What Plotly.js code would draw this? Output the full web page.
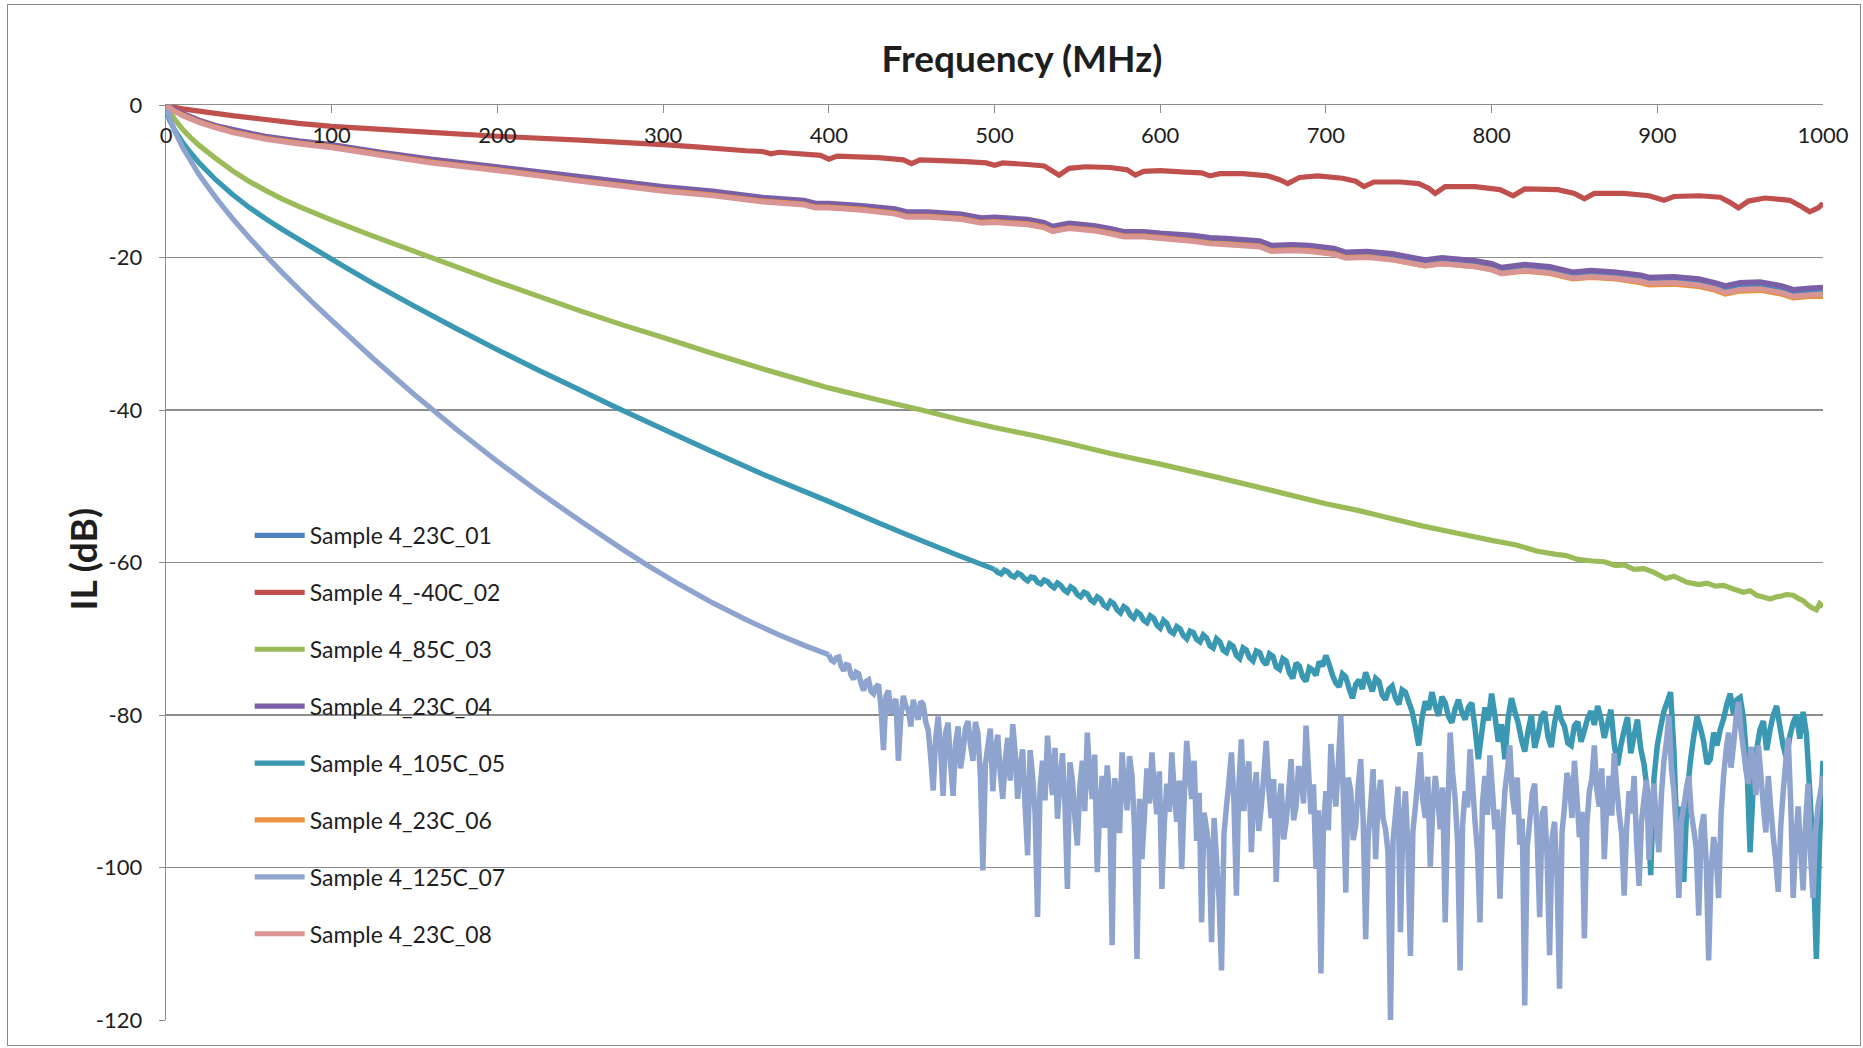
<!DOCTYPE html>
<html><head><meta charset="utf-8">
<script src="https://cdn.plot.ly/plotly-3.0.1.min.js"></script>
<style>
html,body{margin:0;padding:0;background:#fff;}
#frame{position:absolute;left:7px;top:4px;width:1852px;height:1040px;border:1px solid #8a8a8a;}
#chart{width:1852px;height:1040px;}
</style></head><body>
<div id="frame"><div id="chart"></div></div>
<script>
// ---------- DATA ----------
const SERIES_NAMES = ['Sample 4_23C_01','Sample 4_-40C_02','Sample 4_85C_03','Sample 4_23C_04',
                      'Sample 4_105C_05','Sample 4_23C_06','Sample 4_125C_07','Sample 4_23C_08'];
const X_TICKS = [0,100,200,300,400,500,600,700,800,900,1000];
const Y_TICKS = [-120,-100,-80,-60,-40,-20,0];
const X_TITLE = 'Frequency (MHz)';
const Y_TITLE = 'IL (dB)';

// Sample 4_-40C_02
const FREQ_M40 = [0,5,10,20,40,60,80,100,130,160,200,250,300,320,350,360,365,370,395,400,405,430,445,450,455,480,495,500,505,520,530,539,545,555,570,580,585,590,600,615,625,630,636,650,665,672,677,684,695,710,718,723,729,745,756,762,766,772,790,805,813,820,840,850,856,862,880,895,904,910,925,938,944,949,955,965,980,986,992,997,1000];
const IL_M40 = [0,-0.3,-0.5,-0.8,-1.4,-1.9,-2.4,-2.8,-3.2,-3.6,-4.1,-4.6,-5.2,-5.5,-6.0,-6.1,-6.4,-6.2,-6.6,-7.1,-6.7,-6.9,-7.2,-7.7,-7.2,-7.4,-7.6,-7.9,-7.6,-7.8,-8.0,-9.2,-8.3,-8.1,-8.2,-8.5,-9.2,-8.7,-8.6,-8.8,-8.9,-9.3,-9.0,-9.0,-9.3,-9.8,-10.3,-9.5,-9.3,-9.6,-10.0,-10.7,-10.1,-10.1,-10.3,-10.9,-11.6,-10.7,-10.7,-11.1,-11.9,-11.0,-11.1,-11.6,-12.3,-11.6,-11.6,-11.9,-12.5,-12.0,-11.9,-12.1,-12.8,-13.5,-12.6,-12.2,-12.5,-13.2,-14.0,-13.5,-12.9];

// the four 23C samples share one frequency list
const FREQ_23C = [0,5,10,20,30,40,60,80,100,130,160,200,250,300,330,360,385,392,400,420,440,447,460,480,492,500,520,530,535,545,560,570,578,590,600,620,630,640,660,667,680,690,705,712,725,740,755,760,770,790,800,806,820,835,849,860,875,890,895,910,925,935,941,950,962,975,982,992,1000];
const IL_23C_01 = [0,-0.7,-1.2,-2.1,-2.8,-3.4,-4.3,-4.9,-5.4,-6.4,-7.3,-8.3,-9.7,-11.0,-11.6,-12.4,-12.8,-13.2,-13.2,-13.5,-13.9,-14.3,-14.3,-14.6,-15.1,-15.0,-15.3,-15.7,-16.2,-15.8,-16.1,-16.5,-16.9,-16.9,-17.1,-17.4,-17.7,-17.8,-18.1,-18.7,-18.6,-18.7,-19.1,-19.6,-19.5,-19.8,-20.4,-20.6,-20.3,-20.7,-21.1,-21.6,-21.2,-21.5,-22.2,-22.0,-22.2,-22.6,-22.9,-22.8,-23.1,-23.6,-24.0,-23.6,-23.5,-24.0,-24.5,-24.3,-24.2];
const IL_23C_04 = [0,-0.6,-1.1,-2.0,-2.7,-3.2,-4.1,-4.7,-5.2,-6.2,-7.1,-8.1,-9.4,-10.7,-11.3,-12.1,-12.5,-12.9,-12.9,-13.2,-13.6,-14.0,-14.0,-14.3,-14.8,-14.7,-15.0,-15.4,-15.9,-15.5,-15.8,-16.2,-16.6,-16.6,-16.8,-17.1,-17.4,-17.5,-17.8,-18.4,-18.3,-18.4,-18.8,-19.3,-19.2,-19.5,-20.1,-20.3,-20.0,-20.4,-20.8,-21.3,-20.9,-21.2,-21.9,-21.7,-21.9,-22.3,-22.6,-22.5,-22.8,-23.3,-23.7,-23.3,-23.2,-23.7,-24.2,-24.0,-23.9];
const IL_23C_06 = [0,-0.8,-1.3,-2.2,-2.9,-3.5,-4.4,-5.0,-5.5,-6.5,-7.5,-8.5,-9.9,-11.2,-11.8,-12.6,-13.0,-13.4,-13.4,-13.7,-14.2,-14.6,-14.6,-14.9,-15.4,-15.3,-15.6,-16.0,-16.5,-16.1,-16.4,-16.8,-17.2,-17.2,-17.4,-17.8,-18.1,-18.2,-18.5,-19.1,-19.0,-19.1,-19.5,-20.0,-19.9,-20.3,-20.9,-21.1,-20.8,-21.2,-21.6,-22.1,-21.8,-22.1,-22.8,-22.6,-22.8,-23.3,-23.6,-23.5,-23.8,-24.3,-24.8,-24.4,-24.3,-24.8,-25.3,-25.1,-25.1];
const IL_23C_08 = [0,-0.8,-1.4,-2.3,-3.0,-3.6,-4.5,-5.1,-5.6,-6.6,-7.6,-8.6,-10.0,-11.3,-11.9,-12.7,-13.1,-13.5,-13.5,-13.8,-14.3,-14.7,-14.7,-15.0,-15.5,-15.4,-15.7,-16.1,-16.6,-16.2,-16.5,-16.9,-17.3,-17.3,-17.5,-17.9,-18.2,-18.3,-18.6,-19.2,-19.1,-19.2,-19.6,-20.1,-20.0,-20.3,-20.9,-21.1,-20.8,-21.2,-21.6,-22.1,-21.7,-22.0,-22.7,-22.5,-22.7,-23.1,-23.4,-23.3,-23.6,-24.1,-24.6,-24.2,-24.1,-24.6,-25.1,-24.9,-24.8];

// Sample 4_85C_03
const FREQ_85C = [0,2,5,10,15,20,30,40,50,60,70,80,100,125,150,175,200,225,250,275,300,330,360,400,430,456,480,500,525,545,570,600,634,672,700,720,735,758,780,800,815,827,838,845,852,861,868,875,880,886,892,898,905,910,918,925,930,935,940,945,952,956,960,965,968,972,975,978,982,985,988,991,993,996,998,1000];
const IL_85C = [0,-0.8,-1.8,-3.2,-4.3,-5.3,-7.0,-8.6,-10.0,-11.2,-12.3,-13.3,-15.1,-17.2,-19.2,-21.2,-23.2,-25.1,-27.0,-28.8,-30.5,-32.6,-34.6,-37.1,-38.7,-40.0,-41.3,-42.3,-43.4,-44.4,-45.7,-47.1,-48.8,-50.8,-52.3,-53.2,-54.0,-55.2,-56.2,-57.1,-57.7,-58.5,-58.9,-59.1,-59.6,-59.8,-59.9,-60.4,-60.3,-60.9,-60.8,-61.3,-62.1,-61.8,-62.6,-62.9,-62.7,-63.1,-63.0,-63.4,-63.9,-63.7,-64.3,-64.6,-64.8,-64.5,-64.4,-64.2,-64.3,-64.7,-65.0,-65.6,-65.9,-66.2,-65.4,-65.8];

// Sample 4_105C_05 : smooth part, then noisy part sampled every 2 MHz from 500 MHz
const FREQ_105C = [0,2,5,10,15,20,30,40,50,60,70,80,96,110,125,150,175,200,225,250,270,300,330,360,400,430,450,475,500];
const IL_105C = [0,-1.9,-3.2,-4.9,-6.3,-7.6,-9.8,-11.7,-13.4,-14.9,-16.3,-17.6,-19.7,-21.5,-23.4,-26.4,-29.3,-32.1,-34.8,-37.4,-39.5,-42.5,-45.5,-48.4,-52.0,-54.8,-56.6,-58.8,-60.9];
const NOISE_105C_START = 500, NOISE_105C_STEP = 2;
const IL_105C_NOISE = [
 -60.9,-61.3,-61.5,-61.0,-61.2,-61.7,-61.9,-61.4,-61.6,-62.1,-62.4,-61.9,-62.0,-62.6,-62.8,-62.3,-62.5,-63.0,-63.3,-62.7,
 -63.0,-63.6,-63.9,-63.2,-63.5,-64.2,-64.5,-63.9,-64.1,-64.9,-65.2,-64.5,-64.8,-65.6,-65.9,-65.1,-65.4,-66.2,-66.6,-65.8,
 -66.1,-66.9,-67.3,-66.5,-66.8,-67.6,-67.9,-67.0,-67.3,-68.2,-68.6,-67.6,-68.0,-69.0,-69.3,-68.4,-68.7,-69.6,-70.0,-69.0,
 -69.2,-70.1,-70.4,-69.5,-69.9,-70.9,-71.2,-70.0,-70.4,-71.5,-71.8,-70.7,-71.0,-72.2,-72.6,-71.2,-71.5,-72.5,-72.9,-71.6,
 -71.8,-72.9,-73.4,-72.0,-72.3,-73.7,-74.0,-72.6,-72.9,-74.5,-75.2,-73.2,-73.6,-75.0,-75.6,-73.8,-74.1,-74.8,-73.0,-73.6,
 -72.2,-73.4,-74.8,-75.8,-76.3,-74.6,-75.0,-76.5,-77.8,-76.0,-75.4,-76.6,-74.4,-75.7,-76.9,-75.2,-75.6,-77.4,-78.0,-76.6,
 -76.2,-77.8,-78.6,-76.7,-77.0,-78.3,-79.5,-81.6,-84.0,-80.4,-78.2,-79.3,-77.0,-78.8,-80.1,-77.6,-78.4,-80.2,-81.0,-79.2,
 -78.0,-79.6,-80.6,-79.0,-78.4,-81.7,-85.8,-82.4,-79.0,-80.7,-77.2,-80.1,-83.5,-81.2,-85.8,-80.3,-77.8,-79.5,-81.0,-83.2,
 -84.8,-82.1,-80.0,-84.3,-82.6,-80.2,-79.6,-82.8,-84.2,-81.0,-78.8,-80.6,-81.5,-83.7,-84.0,-81.4,-80.9,-83.5,-82.0,-80.4,
 -79.5,-81.3,-78.8,-80.5,-83.0,-81.1,-79.3,-83.8,-86.6,-84.0,-82.0,-80.3,-85.0,-82.7,-80.6,-84.4,-86.5,-90.0,-101.0,-88.3,
 -84.0,-81.6,-79.5,-78.3,-77.0,-84.5,-96.7,-92.0,-101.9,-90.4,-86.0,-82.8,-80.2,-81.7,-83.5,-86.4,-85.8,-82.3,-84.0,-81.9,
 -80.5,-78.6,-77.2,-79.9,-78.0,-77.7,-80.4,-86.0,-98.0,-88.8,-84.5,-81.9,-80.8,-84.6,-82.0,-80.0,-78.8,-81.5,-84.1,-85.7,
 -82.8,-81.0,-80.0,-83.1,-79.6,-82.5,-90.0,-98.0,-112.0,-96.0,-86.0];

// Sample 4_125C_07 : smooth part, then noisy part sampled every 1.5 MHz from 400 MHz
const FREQ_125C = [0,2,5,10,20,30,40,50,60,70,80,90,100,125,150,175,200,225,250,275,290,310,330,350,370,385,400];
const IL_125C = [0,-1.5,-3.3,-5.55,-9.15,-12.15,-14.85,-17.35,-19.7,-21.95,-24.1,-26.2,-28.25,-33.25,-38.0,-42.5,-46.75,-50.75,-54.55,-58.2,-60.3,-62.9,-65.3,-67.5,-69.5,-70.85,-72.1];
const NOISE_125C_START = 400, NOISE_125C_STEP = 1.5;
const IL_125C_NOISE = [
 -72.1,-72.8,-73.0,-72.5,-72.4,-73.6,-74.2,-73.4,-73.5,-74.8,-75.3,-74.4,-74.6,-75.9,-76.8,-75.6,-75.4,-76.9,-77.2,-76.3,
 -76.0,-79.0,-84.6,-77.5,-76.8,-79.8,-78.5,-77.9,-86.0,-80.2,-77.5,-78.8,-79.4,-81.5,-78.0,-79.6,-80.6,-78.2,-78.6,-80.9,
 -82.0,-85.5,-89.9,-83.0,-80.2,-84.5,-90.6,-82.3,-81.0,-86.4,-90.6,-83.8,-81.5,-87.0,-84.8,-81.7,-80.8,-83.9,-86.0,-80.9,
 -82.4,-88.0,-100.4,-86.5,-84.0,-81.8,-90.0,-84.4,-82.6,-87.7,-91.0,-85.9,-83.0,-88.6,-81.2,-85.0,-91.0,-86.8,-84.5,-92.0,
 -98.4,-84.6,-88.0,-93.0,-106.5,-89.5,-86.0,-91.2,-82.7,-87.0,-90.5,-84.3,-93.6,-88.8,-85.0,-91.5,-102.8,-86.2,-88.5,-93.4,
 -97.1,-89.4,-86.0,-92.6,-82.3,-87.9,-91.0,-85.2,-100.6,-92.4,-88.0,-94.8,-86.6,-91.0,-110.2,-88.3,-90.0,-95.5,-84.9,-89.6,
 -92.5,-85.4,-88.0,-95.0,-112.0,-91.0,-98.9,-93.2,-87.0,-91.6,-84.9,-89.8,-93.0,-87.4,-102.8,-94.1,-89.0,-92.7,-84.9,-90.3,
 -94.0,-88.6,-100.2,-90.8,-83.4,-87.5,-91.0,-86.0,-96.5,-90.2,-107.2,-92.8,-95.0,-97.4,-109.8,-93.5,-99.0,-104.0,-113.5,-95.6,
 -92.0,-88.7,-84.9,-91.4,-103.7,-89.0,-83.2,-92.6,-88.0,-86.1,-98.0,-90.4,-87.5,-95.2,-92.0,-87.9,-83.4,-89.6,-93.5,-88.4,
 -101.9,-91.7,-89.0,-96.3,-94.0,-90.2,-85.8,-93.8,-92.0,-86.7,-88.0,-91.6,-81.4,-87.2,-93.0,-89.1,-100.2,-92.5,-113.9,-94.8,
 -90.0,-95.1,-83.8,-88.9,-92.0,-86.3,-80.1,-90.6,-103.3,-88.2,-90.0,-96.4,-94.5,-89.3,-85.8,-93.7,-109.4,-96.2,-92.0,-87.1,
 -98.9,-91.3,-88.5,-93.6,-95.0,-98.0,-120.0,-96.5,-93.0,-89.4,-108.5,-94.0,-90.0,-97.7,-111.6,-95.3,-92.0,-88.6,-84.9,-91.2,
 -93.5,-88.1,-99.9,-92.2,-88.0,-90.9,-95.0,-89.5,-107.2,-93.4,-82.3,-87.6,-91.0,-96.8,-113.5,-94.4,-90.0,-92.1,-84.5,-89.0,
 -94.0,-97.9,-107.2,-91.5,-88.0,-93.1,-85.3,-89.8,-95.0,-92.4,-104.1,-95.8,-90.0,-87.3,-84.0,-90.5,-93.0,-88.2,-97.0,-93.6,
 -118.1,-97.2,-94.0,-90.3,-89.0,-95.9,-106.5,-93.0,-92.0,-98.7,-111.5,-96.1,-94.0,-101.2,-115.9,-95.4,-92.0,-87.6,-89.0,-93.5,
 -86.0,-90.8,-96.0,-92.7,-109.3,-94.3,-90.0,-88.4,-84.0,-89.9,-92.0,-87.0,-98.9,-91.8,-88.0,-93.2,-85.0,-89.3,-93.0,-95.6,
 -103.7,-94.8,-90.0,-92.9,-88.0,-96.6,-102.4,-93.9,-91.0,-88.5,-99.0,-92.3,-89.0,-94.7,-98.0,-90.4,-86.0,-83.6,-80.1,-86.9,
 -90.0,-95.3,-104.0,-94.0,-92.0,-89.7,-88.0,-92.8,-95.0,-97.5,-106.3,-95.0,-93.0,-99.2,-112.2,-100.3,-96.0,-98.4,-104.0,-93.0,
 -88.0,-84.7,-82.3,-86.9,-84.0,-80.4,-78.3,-82.0,-84.5,-87.3,-89.0,-84.2,-86.0,-90.5,-84.0,-87.8,-92.0,-95.4,-88.0,-92.3,
 -96.0,-99.1,-103.2,-94.6,-90.0,-86.2,-83.0,-91.5,-104.0,-96.8,-92.0,-97.6,-103.0,-94.2,-89.0,-98.5,-104.0,-95.3,-92.0,-90.1,
 -88.0];

const COLORS = ['#4f81bd','#c0504d','#9bbb59','#7b5fa6','#3a98b3','#e8913f','#8ea4cf','#d99594'];

// ---------- CHART ----------
const FONT = 'Lato, "Open Sans", sans-serif';
const TXT = '#1e1e1e';
const GRID = '#8c8c8c';
const LW = 5.2;
const LW_NOISE = 5.5;

function line(i, x, y) {
  return {type: 'scatter', mode: 'lines', x: x, y: y, name: SERIES_NAMES[i],
    legendgroup: 'g' + i, line: {color: COLORS[i], width: LW, simplify: false}, hoverinfo: 'skip'};
}
function tail(i, x0, dx, y) {
  return {type: 'scatter', mode: 'lines', x0: x0, dx: dx, y: y, name: SERIES_NAMES[i],
    legendgroup: 'g' + i, showlegend: false,
    line: {color: COLORS[i], width: LW_NOISE, simplify: false, join: 'miter'}, hoverinfo: 'skip'};
}

const traces = [
  line(0, FREQ_23C, IL_23C_01),
  line(1, FREQ_M40, IL_M40),
  line(2, FREQ_85C, IL_85C),
  line(3, FREQ_23C, IL_23C_04),
  line(4, FREQ_105C, IL_105C),
  tail(4, NOISE_105C_START, NOISE_105C_STEP, IL_105C_NOISE),
  line(5, FREQ_23C, IL_23C_06),
  line(6, FREQ_125C, IL_125C),
  tail(6, NOISE_125C_START, NOISE_125C_STEP, IL_125C_NOISE),
  line(7, FREQ_23C, IL_23C_08)
];

const layout = {
  width: 1852, height: 1040,
  margin: {l: 158.3, r: 37.3, t: 99.6, b: 24.5},
  paper_bgcolor: '#ffffff', plot_bgcolor: '#ffffff',
  font: {family: FONT, color: TXT, size: 21},
  showlegend: true,
  title: {text: X_TITLE, font: {family: FONT, size: 37, weight: 700, color: TXT},
          xref: 'container', yref: 'container', x: 0.5475, xanchor: 'center', y: 0.948, yanchor: 'middle'},
  xaxis: {
    range: [0, 1000], side: 'top', tickvals: X_TICKS, ticktext: X_TICKS.map(String),
    ticks: 'inside', ticklen: 8, tickwidth: 1, tickcolor: GRID,
    showline: true, linecolor: GRID, linewidth: 1.3, showgrid: false, zeroline: false,
    ticklabelposition: 'outside', ticklabelstandoff: -48,
    tickfont: {family: FONT, size: 22, color: TXT},
    fixedrange: true
  },
  yaxis: {
    range: [-120, 0], tickvals: Y_TICKS, ticktext: Y_TICKS.map(String),
    ticks: 'outside', ticklen: 6, tickwidth: 1, tickcolor: GRID,
    showline: true, linecolor: GRID, linewidth: 1.3,
    showgrid: true, gridcolor: GRID, gridwidth: 1.3, zeroline: false,
    ticklabelstandoff: 12,
    tickfont: {family: FONT, size: 22, color: TXT},
    automargin: false, fixedrange: true
  },
  annotations: [{
    text: '<b>' + Y_TITLE + '</b>', textangle: -90, showarrow: false,
    xref: 'paper', yref: 'paper', x: -0.0503, y: 0.503, xanchor: 'center', yanchor: 'middle',
    font: {family: FONT, size: 37, color: TXT}
  }],
  legend: {
    x: 0.0505, xanchor: 'left', y: 0.553, yanchor: 'top',
    bgcolor: 'rgba(0,0,0,0)', borderwidth: 0,
    font: {family: FONT, size: 23, color: TXT},
    tracegroupgap: 24, itemwidth: 50, traceorder: 'grouped'
  }
};

Plotly.newPlot('chart', traces, layout, {staticPlot: true, displayModeBar: false});
</script>
</body></html>
